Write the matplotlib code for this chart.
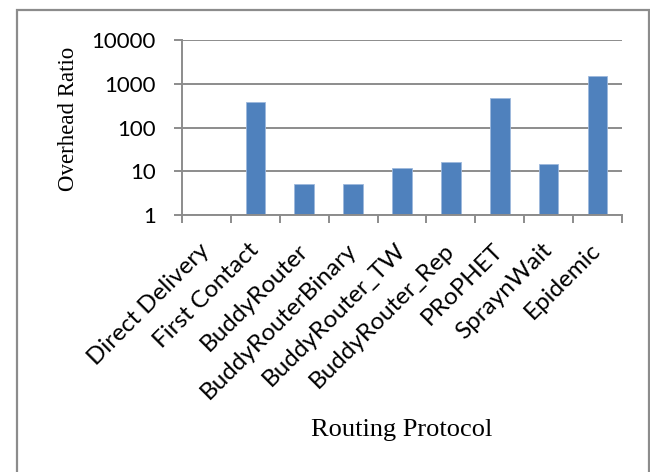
import matplotlib.pyplot as plt
import numpy as np
from matplotlib.patches import Rectangle

protocols = ['Direct Delivery', 'First Contact', 'BuddyRouter', 'BuddyRouterBinary',
             'BuddyRouter_TW', 'BuddyRouter_Rep', 'PRoPHET', 'SpraynWait', 'Epidemic']
overhead = [0, 380, 5.0, 5.1, 12.0, 16.2, 484, 14.3, 1514]
y_ticks = [1, 10, 100, 1000, 10000]

bar_color = '#4F81BD'
line_color = '#8C8C8C'

fig = plt.figure(figsize=(6.5, 4.72), dpi=100)
ax = fig.add_axes([182 / 650, 1 - 215 / 472, 440 / 650, 175 / 472])

x = np.arange(len(protocols))
ax.bar(x, overhead, width=0.4, color=bar_color, edgecolor='#9DB8DC', linewidth=0.6, zorder=3)

ax.set_yscale('log')
ax.set_ylim(1, 10000)
ax.set_xlim(-0.5, len(protocols) - 0.5)
ax.set_yticks(y_ticks)
ax.set_yticklabels([str(v) for v in y_ticks])
ax.yaxis.set_minor_locator(plt.NullLocator())
ax.grid(axis='y', color=line_color, linewidth=1.4, zorder=0)

# category labels sit at bar centres, tick marks at the category boundaries
ax.set_xticks(x)
ax.set_xticklabels(protocols)
ax.set_xticks(np.arange(-0.5, len(protocols)), minor=True)
ax.tick_params(axis='x', which='major', length=0, pad=23, labelsize=17.5)
ax.tick_params(axis='x', which='minor', length=5.8, width=1.4, color=line_color, direction='out')
ax.tick_params(axis='y', length=5.8, width=1.4, color=line_color, pad=13, labelsize=16)
for lab in ax.get_xticklabels():
    lab.set_rotation(45)
    lab.set_ha('right')
    lab.set_va('center')
    lab.set_rotation_mode('anchor')
for lab in ax.get_xticklabels() + ax.get_yticklabels():
    lab.set_family('Lato')

for side in ['top', 'right']:
    ax.spines[side].set_visible(False)
for side in ['left', 'bottom']:
    ax.spines[side].set_color(line_color)
    ax.spines[side].set_linewidth(1.4)
    ax.spines[side].set_zorder(4)

fig.text(68 / 650, 1 - 119 / 472, 'Overhead Ratio', rotation=90, ha='center', va='center',
         family='Liberation Serif', fontsize=16.5)
fig.text(402 / 650, 1 - 430 / 472, 'Routing Protocol', ha='center', va='center',
         family='Liberation Serif', fontsize=19)

# chart area frame, open at the bottom
left, top, right = 17 / 650, 1 - 10 / 472, 648.5 / 650
fig.patches.append(Rectangle((left, -0.1), right - left, top + 0.1, transform=fig.transFigure,
                             fill=False, edgecolor=line_color, linewidth=1.6))

fig.savefig('out.png', dpi=100)
